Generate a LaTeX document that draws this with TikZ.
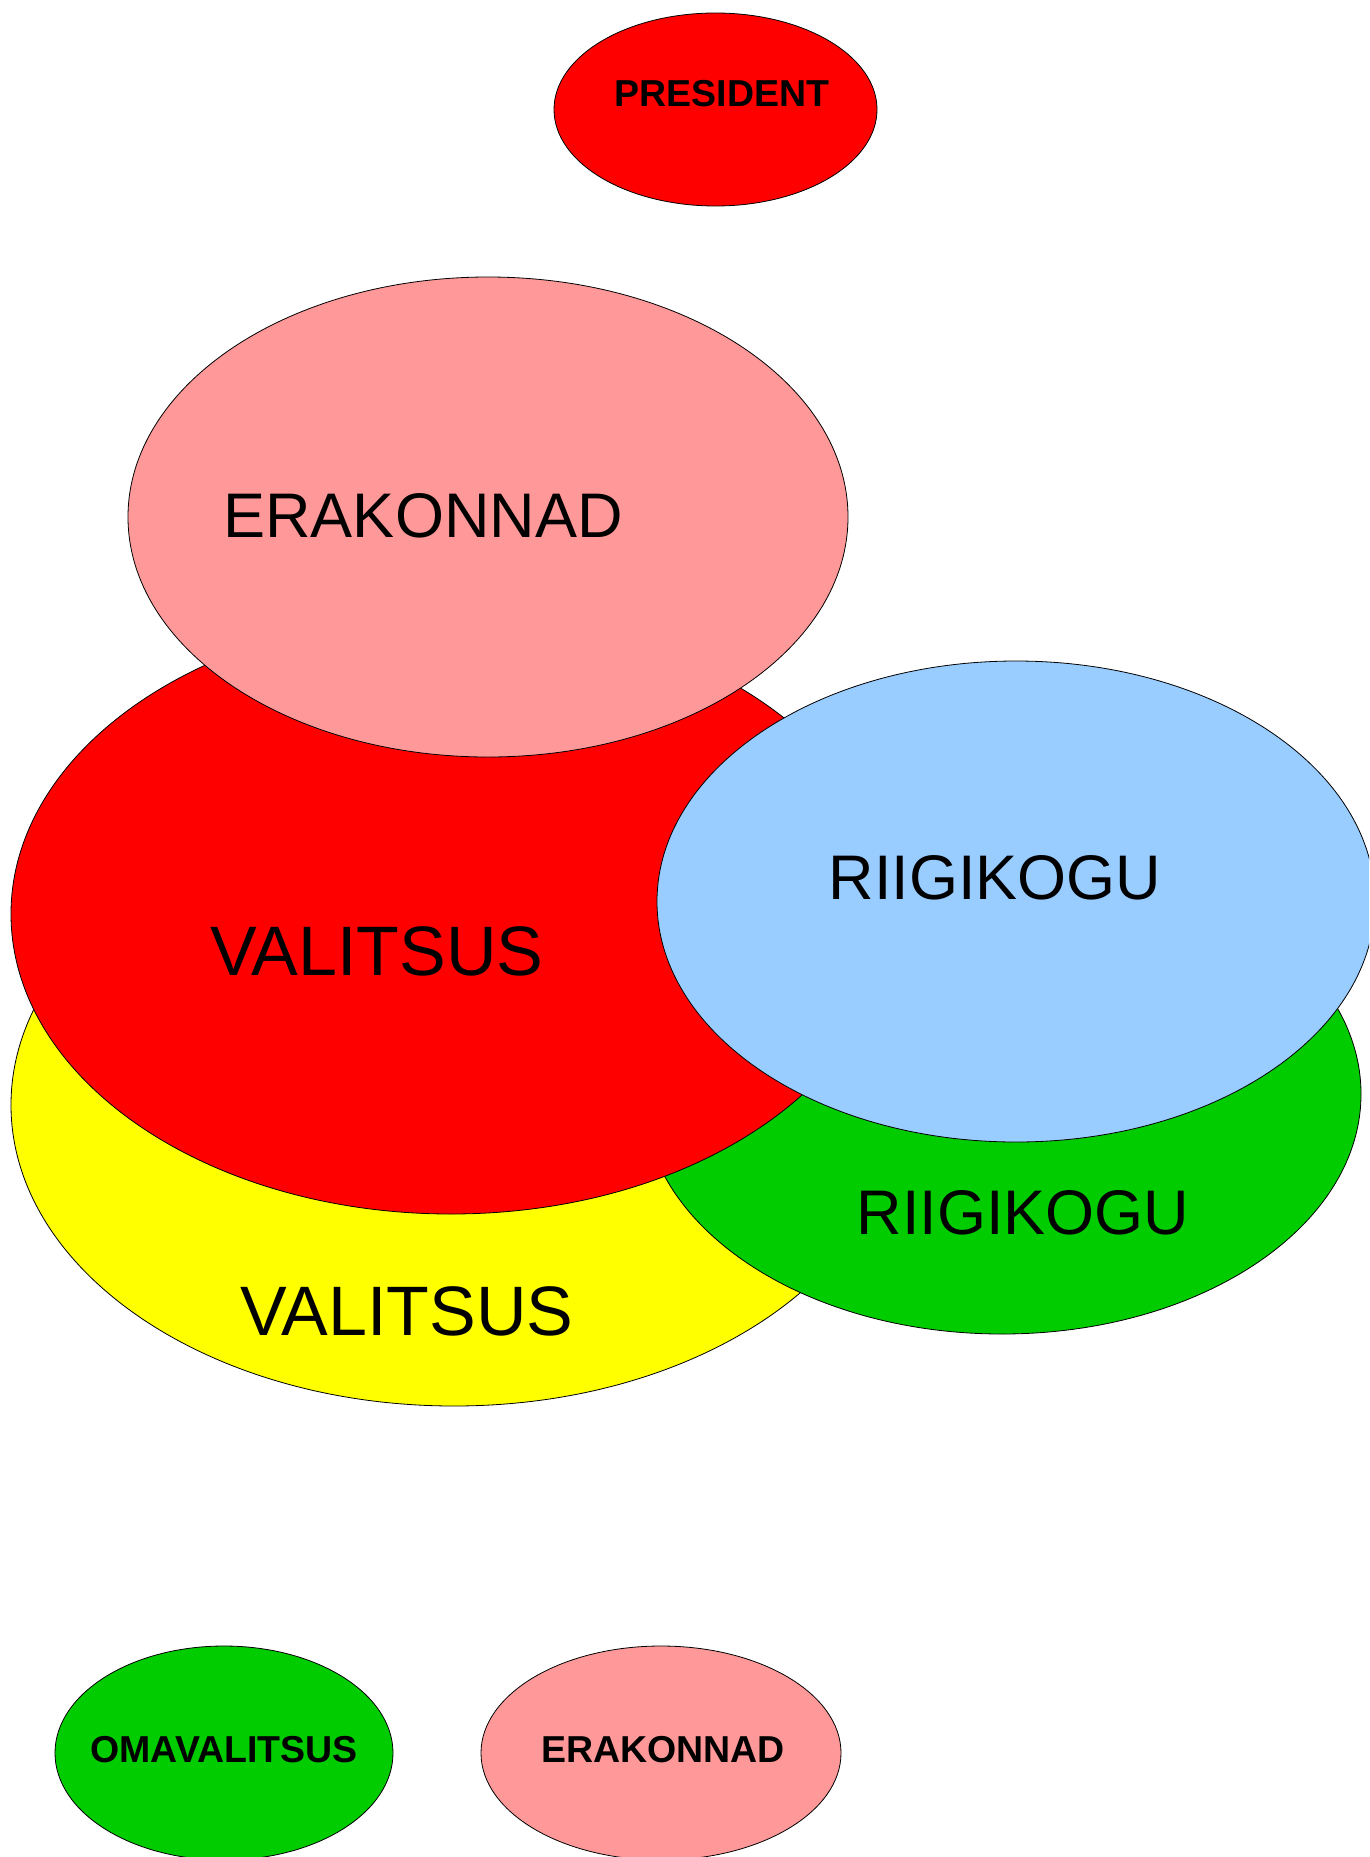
\documentclass[tikz,border=0pt]{standalone}
\usepackage{fontspec}
\setmainfont{Liberation Sans}
\usetikzlibrary{shapes.geometric}
\definecolor{cred}{HTML}{FF0000}
\definecolor{cpink}{HTML}{FF9999}
\definecolor{cblue}{HTML}{99CCFF}
\definecolor{cgreen}{HTML}{00CC00}
\definecolor{cyellow}{HTML}{FFFF00}
\tikzset{
  blob/.style={ellipse, draw=black, line width=0.8pt, inner sep=0pt},
  biglabel/.style={inner sep=0pt, anchor=center, font=\fontsize{63}{63}\selectfont},
  vallabel/.style={inner sep=0pt, anchor=center, font=\fontsize{70}{70}\selectfont},
  smalllabel/.style={inner sep=0pt, anchor=center, font=\fontsize{37.5}{37.5}\selectfont\bfseries},
}
\begin{document}
\begin{tikzpicture}[x=1pt,y=-1pt]
\useasboundingbox (0,0) rectangle (1369,1857);
\clip (0,0) rectangle (1369,1857);
% ellipses
\node[blob, fill=cred, minimum width=323pt, minimum height=193pt] (pres) at (715.5,109.5) {};
\node[blob, fill=cyellow, minimum width=886pt, minimum height=602pt] (valy) at (454,1105) {};
\node[blob, fill=cgreen, minimum width=718pt, minimum height=480pt] (riig) at (1002,1094) {};
\node[blob, fill=cred, minimum width=880pt, minimum height=600pt] (valr) at (451,914) {};
\node[blob, fill=cpink, minimum width=720pt, minimum height=480pt] (erab) at (488,517) {};
\node[blob, fill=cblue, minimum width=718pt, minimum height=481pt] (riib) at (1016,901.5) {};
\node[blob, fill=cgreen, minimum width=338pt, minimum height=214pt] (oma) at (224,1753) {};
\node[blob, fill=cpink, minimum width=360pt, minimum height=214pt] (eras) at (661,1753) {};
% labels
\node[smalllabel] (tpres) at (722,94) {PRESIDENT};
\node[biglabel] (terab) at (423,516) {ERAKONNAD};
\node[vallabel] (tvalr) at (377,951) {VALITSUS};
\node[biglabel] (triib) at (995,878) {RIIGIKOGU};
\node[biglabel] (triig) at (1023,1213) {RIIGIKOGU};
\node[vallabel] (tvaly) at (407,1311) {VALITSUS};
\node[smalllabel] (toma) at (224,1750) {OMAVALITSUS};
\node[smalllabel] (teras) at (663,1750) {ERAKONNAD};
\end{tikzpicture}
\end{document}
